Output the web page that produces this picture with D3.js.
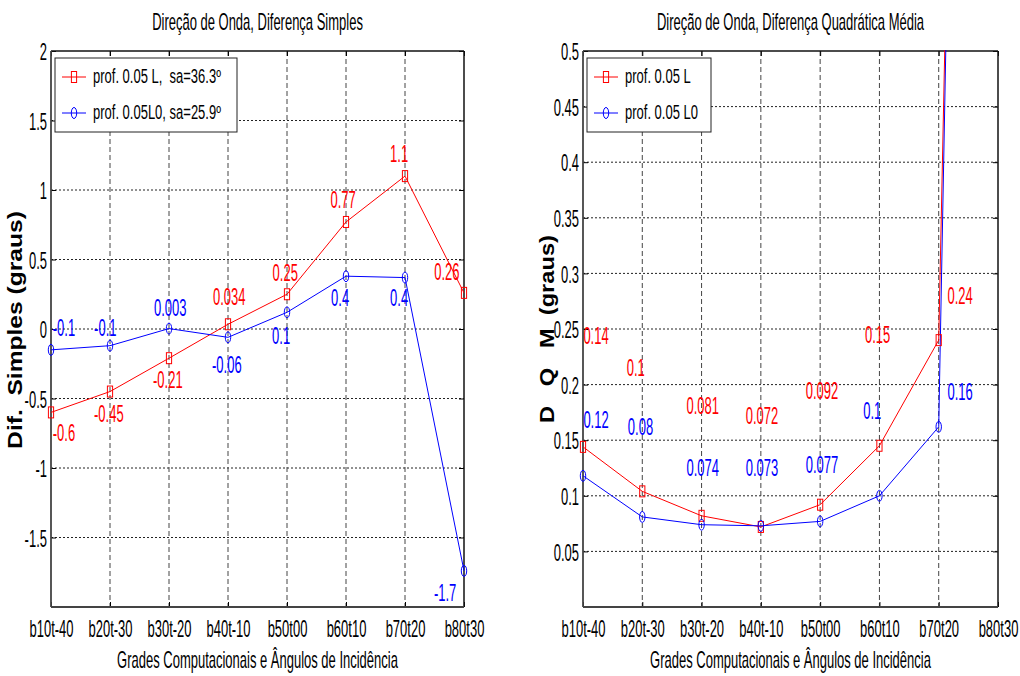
<html>
<head>
<script src="https://cdnjs.cloudflare.com/ajax/libs/d3/7.8.5/d3.min.js"></script>
</head>
<body style="margin: 0; background: #fff;">
<script>
const categories = ["b10t-40", "b20t-30", "b30t-20", "b40t-10", "b50t00", "b60t10", "b70t20", "b80t30"];

// left: simple difference (graus)
const simplesL = [-0.6, -0.45, -0.21, 0.034, 0.25, 0.77, 1.1, 0.26];
const simplesL0 = [-0.15, -0.12, 0.003, -0.06, 0.12, 0.38, 0.37, -1.74];
const simplesTicks = [-1.5, -1, -0.5, 0, 0.5, 1, 1.5, 2];
const simplesLText = ["-0.6", "-0.45", "-0.21", "0.034", "0.25", "0.77", "1.1", "0.26"];
const simplesLAtX = [0.22, 0.98, 1.98, 3.02, 3.97, 4.95, 5.9, 6.71];
const simplesLAtY = [-0.75, -0.61, -0.37, 0.23, 0.40, 0.93, 1.26, 0.41];
const simplesL0Text = ["-0.1", "-0.1", "0.003", "-0.06", "0.1", "0.4", "0.4", "-1.7"];
const simplesL0AtX = [0.22, 0.92, 2.02, 2.98, 3.9, 4.9, 5.9, 6.68];
const simplesL0AtY = [0.01, 0.01, 0.15, -0.26, -0.05, 0.22, 0.22, -1.9];

// right: root mean square difference (graus)
const dqmL = [0.144, 0.104, 0.082, 0.072, 0.092, 0.145, 0.24, 2.8];
const dqmL0 = [0.118, 0.081, 0.074, 0.073, 0.077, 0.1, 0.162, 3.0];
const dqmTicks = [0.05, 0.1, 0.15, 0.2, 0.25, 0.3, 0.35, 0.4, 0.45, 0.5];
const dqmLText = ["0.14", "0.1", "0.081", "0.072", "0.092", "0.15", "0.24"];
const dqmLAtX = [0.22, 0.89, 2.02, 3.02, 4.03, 4.97, 6.36];
const dqmLAtY = [0.244, 0.215, 0.181, 0.172, 0.194, 0.245, 0.28];
const dqmL0Text = ["0.12", "0.08", "0.074", "0.073", "0.077", "0.1", "0.16"];
const dqmL0AtX = [0.22, 0.97, 2.02, 3.02, 4.03, 4.88, 6.36];
const dqmL0AtY = [0.168, 0.162, 0.125, 0.125, 0.128, 0.176, 0.193];

const RED = "#ff0000", BLUE = "#0000ff";
const FONT = "'Liberation Sans', Arial, sans-serif";

const svg = d3.select("body").append("svg")
    .attr("width", 1020)
    .attr("height", 676)
    .style("font-family", FONT)
    .style("display", "block");

function txt(g, x, y, str, o) {
  o = o || {};
  return g.append("text")
      .attr("transform", `translate(${x},${y}) scale(1,${o.sy || 1.8})`)
      .attr("text-anchor", o.anchor || "middle")
      .attr("dominant-baseline", "central")
      .style("font-size", (o.size || 13) + "px")
      .style("font-weight", o.weight || "normal")
      .style("white-space", "pre")
      .attr("fill", o.fill || "#000")
      .text(str);
}

function marker(g, shape, cx, cy, color) {
  if (shape == "square") {
    g.append("rect").attr("x", cx - 2.6).attr("y", cy - 5.5).attr("width", 5.2).attr("height", 11)
      .attr("fill", "none").attr("stroke", color).attr("stroke-width", 1);
  } else {
    g.append("ellipse").attr("cx", cx).attr("cy", cy).attr("rx", 2.7).attr("ry", 5.5)
      .attr("fill", "none").attr("stroke", color).attr("stroke-width", 1);
  }
}

function drawPanel(p) {
  const x = d3.scalePoint().domain(categories).range([p.x0, p.x1]);
  const y = d3.scaleLinear().domain(p.yDomain).range([p.y1, p.y0]);
  const g = svg.append("g");

  // grid
  g.append("g").selectAll("line").data(p.yTicks.filter(v => v != p.yDomain[1])).join("line")
      .attr("x1", p.x0).attr("x2", p.x1).attr("y1", d => y(d)).attr("y2", d => y(d))
      .attr("stroke", "#222").attr("stroke-dasharray", "2,2");
  g.append("g").selectAll("line").data(categories.slice(1, -1)).join("line")
      .attr("x1", d => x(d)).attr("x2", d => x(d)).attr("y1", p.y0).attr("y2", p.y1)
      .attr("stroke", "#444").attr("stroke-dasharray", "5,3");

  // inward ticks on all sides
  const yl = g.append("g").attr("transform", `translate(${p.x0},0)`)
      .call(d3.axisLeft(y).tickValues(p.yTicks).tickSizeInner(-5).tickSizeOuter(0).tickFormat(d => String(d)));
  yl.select(".domain").remove();
  yl.selectAll("text").attr("x", null).attr("dy", null)
      .attr("dominant-baseline", "central")
      .attr("transform", "translate(-4,0) scale(1,1.9)")
      .style("font-size", "13px").style("font-family", FONT).attr("fill", "#000");
  const yr = g.append("g").attr("transform", `translate(${p.x1},0)`)
      .call(d3.axisRight(y).tickValues(p.yTicks).tickSizeInner(-5).tickSizeOuter(0).tickFormat(""));
  yr.select(".domain").remove();
  const xb = g.append("g").attr("transform", `translate(0,${p.y1})`)
      .call(d3.axisBottom(x).tickSizeInner(-5).tickSizeOuter(0));
  xb.select(".domain").remove();
  xb.selectAll("text").attr("y", null).attr("dy", null)
      .attr("dominant-baseline", "central")
      .attr("transform", "translate(0,21) scale(1,1.9)")
      .style("font-size", "13px").style("font-family", FONT).attr("fill", "#000");
  const xt = g.append("g").attr("transform", `translate(0,${p.y0})`)
      .call(d3.axisTop(x).tickSizeInner(-5).tickSizeOuter(0).tickFormat(""));
  xt.select(".domain").remove();
  g.selectAll(".tick line").attr("stroke", "#000");

  // box
  g.append("line").attr("x1", p.x0).attr("x2", p.x1).attr("y1", p.y0).attr("y2", p.y0).attr("stroke", "#111").attr("stroke-width", 1.5);
  g.append("line").attr("x1", p.x1).attr("x2", p.x1).attr("y1", p.y0).attr("y2", p.y1).attr("stroke", "#111").attr("stroke-width", 1.5);
  g.append("line").attr("x1", p.x0).attr("x2", p.x1).attr("y1", p.y1).attr("y2", p.y1).attr("stroke", "#444").attr("stroke-width", 1.8);
  g.append("line").attr("x1", p.x0).attr("x2", p.x0).attr("y1", p.y0).attr("y2", p.y1).attr("stroke", "#444").attr("stroke-width", 1.8);

  // series: lines clipped to the axes, markers left whole
  svg.append("clipPath").attr("id", p.id).append("rect")
      .attr("x", p.x0).attr("y", p.y0 - 1).attr("width", p.x1 - p.x0 + 1).attr("height", p.y1 - p.y0 + 2);
  const plot = g.append("g").attr("clip-path", `url(#${p.id})`);
  const marks = g.append("g");
  const line = d3.line().x((d, i) => x(categories[i])).y(d => y(d));
  p.series.forEach(s => {
    plot.append("path").datum(s.values).attr("d", line)
        .attr("fill", "none").attr("stroke", s.color).attr("stroke-width", 1);
    s.values.forEach((v, i) => {
      if (v <= p.yDomain[1]) marker(marks, s.shape, x(categories[i]), y(v), s.color);
    });
  });

  // value labels (placed in data units)
  const xi = d3.scaleLinear().domain([0, categories.length - 1]).range([p.x0, p.x1]);
  p.series.forEach(s => {
    s.labels.forEach((t, i) => txt(g, xi(s.atX[i]), y(s.atY[i]), t, {fill: s.color}));
  });

  // legend
  const lg = g.append("g").attr("transform", `translate(${p.x0 + 4},${p.y0 + 7})`);
  lg.append("rect").attr("width", p.legendW).attr("height", 74)
      .attr("fill", "#fff").attr("stroke", "#222").attr("stroke-width", 1);
  p.series.forEach((s, i) => {
    const cy = 19 + i * 36;
    lg.append("line").attr("x1", 7).attr("x2", 31).attr("y1", cy).attr("y2", cy).attr("stroke", s.color);
    marker(lg, s.shape, 19, cy, s.color);
    txt(lg, 38, cy, s.name, {anchor: "start", sy: 1.5});
  });

  // titles
  const cx = (p.x0 + p.x1) / 2;
  txt(g, cx, 22, p.title);
  txt(g, cx, 660, "Grades Computacionais e Ângulos de Incidência");
  const yt = g.append("text")
      .attr("text-anchor", "middle")
      .attr("dominant-baseline", "central")
      .style("font-size", "20px")
      .style("font-weight", "bold")
      .style("white-space", "pre")
      .text(p.ylabel);
  const sx = p.ylabelLen / yt.node().getComputedTextLength();
  yt.attr("transform", `translate(${p.ylabelX},${p.ylabelY}) rotate(-90) scale(${sx},1)`);
}

drawPanel({
  id: "clipL", x0: 51, x1: 464, y0: 51, y1: 607,
  yDomain: [-2, 2], yTicks: simplesTicks,
  title: "Direção de Onda, Diferença Simples",
  ylabel: "Dif.  Simples (graus)", ylabelX: 15, ylabelY: 330, ylabelLen: 238,
  legendW: 182,
  series: [
    {name: "prof. 0.05 L,  sa=36.3º", values: simplesL, color: RED, shape: "square",
     labels: simplesLText, atX: simplesLAtX, atY: simplesLAtY},
    {name: "prof. 0.05L0, sa=25.9º", values: simplesL0, color: BLUE, shape: "circle",
     labels: simplesL0Text, atX: simplesL0AtX, atY: simplesL0AtY}
  ]
});

drawPanel({
  id: "clipR", x0: 583, x1: 998, y0: 51, y1: 607,
  yDomain: [0, 0.5], yTicks: dqmTicks,
  title: "Direção de Onda, Diferença Quadrática Média",
  ylabel: "D   Q   M  (graus)", ylabelX: 547, ylabelY: 329, ylabelLen: 188,
  legendW: 124,
  series: [
    {name: "prof. 0.05 L", values: dqmL, color: RED, shape: "square",
     labels: dqmLText, atX: dqmLAtX, atY: dqmLAtY},
    {name: "prof. 0.05 L0", values: dqmL0, color: BLUE, shape: "circle",
     labels: dqmL0Text, atX: dqmL0AtX, atY: dqmL0AtY}
  ]
});
</script>
</body>
</html>
